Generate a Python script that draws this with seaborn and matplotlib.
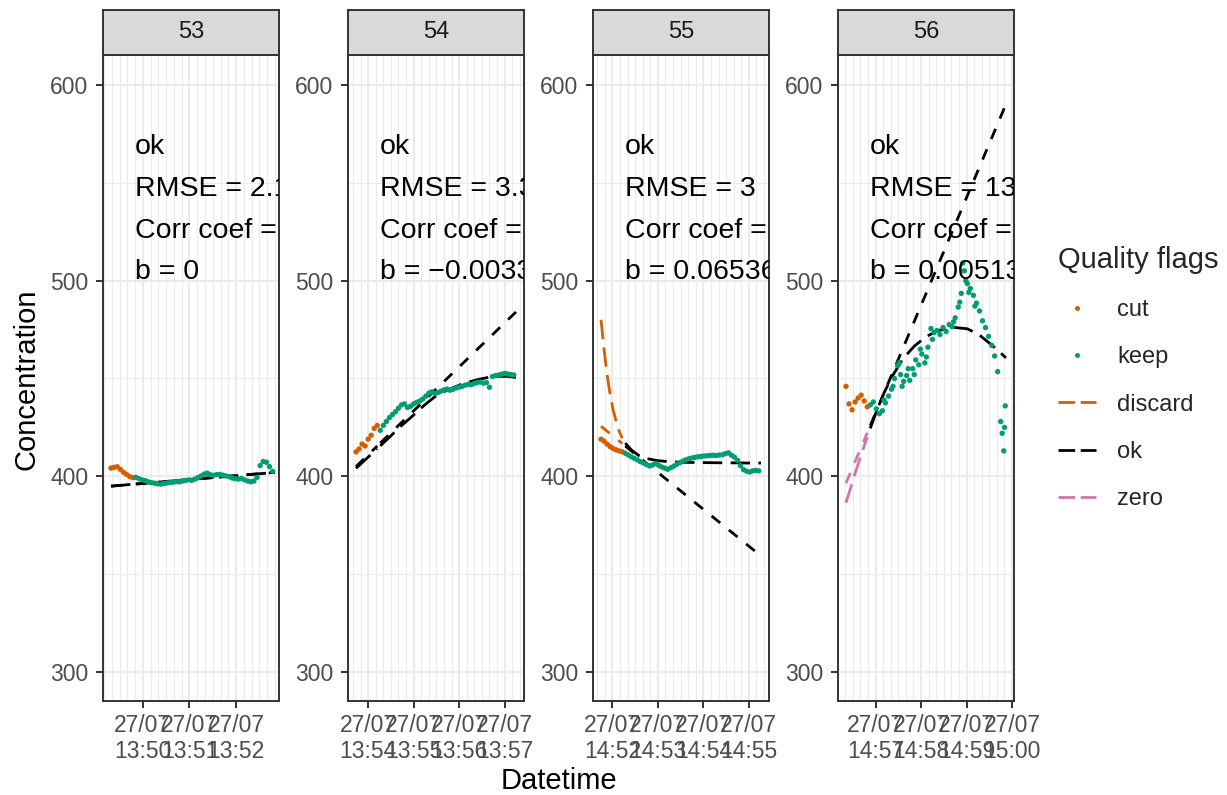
import numpy as np
import pandas as pd
import matplotlib
matplotlib.use("Agg")
import matplotlib.pyplot as plt
import matplotlib.dates as mdates
from matplotlib.lines import Line2D
import seaborn as sns

# ---------------- data ----------------
chambers = ["53", "54", "55", "56"]
start_times = ["2023-07-27 13:49:19", "2023-07-27 13:53:44",
               "2023-07-27 14:51:45", "2023-07-27 14:56:21"]
sample_step = 4          # seconds between logged points
cut_first = 0
keep_first = 32

cut_53 = [404.2, 404.6, 404.9, 403.6, 402.1, 401.0, 399.9, 399.3]
keep_53 = [399.5, 398.8, 398.2, 397.8, 397.2, 396.8, 396.5, 396.2, 396.0, 396.3,
           396.6, 396.9, 397.0, 397.4, 397.2, 397.6, 397.9, 398.2, 398.0, 398.6,
           399.4, 400.2, 401.2, 401.6, 400.8, 400.5, 400.9, 401.0, 400.6, 400.2,
           399.8, 399.2, 398.8, 398.6, 398.9, 398.2, 397.6, 397.2, 397.6, 399.5,
           405.5, 407.6, 407.2, 405.0, 402.6]

cut_54 = [412.5, 414.0, 416.5, 415.5, 419.0, 421.0, 424.5, 426.0]
keep_54 = [423.5, 426.0, 428.0, 430.0, 431.5, 433.0, 434.8, 436.5, 437.0, 435.2,
           435.8, 437.0, 437.8, 438.5, 439.5, 441.0, 442.5, 443.2, 442.4, 442.8,
           443.5, 444.2, 444.6, 444.0, 444.5, 445.2, 445.6, 446.0, 446.6, 447.0,
           446.8, 447.5, 448.0, 448.2, 447.6, 447.9, 445.5, 451.0, 451.5, 451.8,
           452.2, 452.6, 452.3, 452.0, 451.8]

cut_55 = [419.0, 418.0, 416.5, 415.2, 414.2, 413.5, 413.0, 412.6]
keep_55 = [411.8, 410.9, 410.0, 409.2, 408.4, 407.5, 406.8, 406.0, 405.3, 405.8,
           406.6, 405.6, 404.8, 404.2, 403.6, 404.4, 405.2, 406.2, 407.0, 407.8,
           408.5, 409.0, 409.4, 409.7, 410.0, 410.2, 410.4, 410.5, 410.7, 410.8,
           410.6, 410.9, 411.0, 411.6, 412.0, 410.8, 409.8, 408.2, 405.5, 403.4,
           402.6, 402.2, 402.8, 403.0, 402.8]

cut_56 = [446.0, 437.0, 434.0, 438.0, 440.0, 441.5, 438.5, 435.5]
keep_56 = [436.5, 438.0, 434.5, 432.0, 433.5, 437.5, 441.0, 444.5, 450.0, 456.5,
           452.0, 448.5, 451.5, 449.0, 455.0, 459.5, 457.0, 462.5, 458.0, 466.0,
           475.5, 473.5, 474.5, 472.5, 476.0, 474.0, 477.5, 476.5, 481.0, 486.5,
           493.5, 505.0, 498.5, 496.0, 492.5, 488.5, 484.5, 479.5, 476.0, 471.5,
           467.0, 461.5, 453.5, 428.0, 413.0]
# extra scattered readings of chamber 56 (off the 4 s grid)
extra_seconds_56 = [50, 62, 70, 74, 82, 90, 98, 106, 114, 142, 150, 154, 158, 162,
                    170, 206, 209, 210]
extra_56 = [439.0, 446.0, 458.0, 446.0, 455.0, 452.0, 465.0, 461.0, 470.0, 479.0,
            489.0, 509.0, 500.0, 494.0, 487.0, 422.0, 425.0, 436.0]

# linear model lines (values at 0 s, 28 s | 32 s, 211 s)
lm_seconds = [0, 28, 32, 211]
lm_53 = [395.0, 395.9, 396.1, 402.0]
lm_54 = [405.0, 415.5, 417.0, 484.0]
lm_55 = [425.6, 416.8, 415.5, 359.3]
lm_56 = [396.5, 422.2, 425.9, 590.2]

# non-linear model lines
curve_pre_seconds = [0, 4, 8, 12, 16, 20, 24, 28]
curve_post_seconds = [32, 40, 50, 60, 75, 90, 105, 120, 140, 160, 175, 190, 200, 211]
curve_pre_53 = [395.0, 395.1, 395.3, 395.4, 395.5, 395.7, 395.8, 395.9]
curve_post_53 = [396.1, 396.3, 396.7, 397.0, 397.5, 398.0, 398.5, 399.0, 399.6, 400.3,
                 400.8, 401.3, 401.6, 402.0]
curve_pre_54 = [404.1, 405.5, 407.0, 408.4, 409.8, 411.2, 412.7, 414.1]
curve_post_54 = [415.6, 418.5, 422.2, 425.9, 431.0, 436.3, 441.0, 444.0, 447.2, 449.4,
                 450.6, 451.1, 451.1, 450.5]
curve_pre_55 = [480.0, 465.0, 452.0, 442.0, 434.0, 428.0, 423.0, 419.5]
curve_post_55 = [417.0, 413.5, 410.6, 409.1, 408.0, 407.5, 407.2, 407.1, 407.0, 406.9,
                 406.9, 406.8, 406.8, 406.8]
curve_pre_56 = [386.5, 391.5, 396.5, 401.5, 406.3, 411.0, 415.5, 420.0]
curve_post_56 = [424.5, 433.0, 442.5, 450.5, 460.0, 466.5, 471.2, 474.3, 476.2, 475.4,
                 472.5, 467.8, 464.5, 460.5]

pre_flags = ["ok", "ok", "discard", "zero"]
status_text = ["ok", "ok", "ok", "ok"]
rmse_text = ["2.14", "3.31", "3", "13.4"]
corr_text = ["0.612", "0.981", "0.795", "0.873"]
b_text = ["0", "\u22120.00332", "0.06536", "0.00513"]

flag_colors = {"cut": "#D55E00", "keep": "#009E73", "discard": "#D55E00",
               "ok": "#000000", "zero": "#CC79A7"}

cuts = [cut_53, cut_54, cut_55, cut_56]
keeps = [keep_53, keep_54, keep_55, keep_56]
extras_sec = [[], [], [], extra_seconds_56]
extras = [[], [], [], extra_56]
lms = [lm_53, lm_54, lm_55, lm_56]
curves_pre = [curve_pre_53, curve_pre_54, curve_pre_55, curve_pre_56]
curves_post = [curve_post_53, curve_post_54, curve_post_55, curve_post_56]

# ---------------- style ----------------
sns.set_theme(style="white")
plt.rcParams['font.family'] = ['Liberation Sans', 'DejaVu Sans']

W, H = 1227, 795
fig = plt.figure(figsize=(W / 100, H / 100), dpi=100)

panel_left = [103, 348, 593, 838]
panel_w = 176
panel_top, panel_bot = 55, 701
strip_top = 10
x_span = [206, 211, 211, 211]   # seconds covered by each panel before 5% padding

grid_col = "#EBEBEB"
border_col = "#333333"
short_dash = (0, (4, 4))
long_dash = (0, (7, 3))
LW = 2.0

for i, ch in enumerate(chambers):
    t0 = pd.Timestamp(start_times[i])
    ax = fig.add_axes([panel_left[i] / W, 1 - panel_bot / H,
                       panel_w / W, (panel_bot - panel_top) / H])
    ax.set_facecolor("white")
    ax.set_axisbelow(True)

    cut_sec = cut_first + sample_step * np.arange(len(cuts[i]))
    keep_sec = keep_first + sample_step * np.arange(len(keeps[i]))
    all_sec = list(cut_sec) + list(keep_sec) + list(extras_sec[i])
    pts = pd.DataFrame({
        "time": [t0 + pd.Timedelta(seconds=int(s)) for s in all_sec],
        "conc": list(cuts[i]) + list(keeps[i]) + list(extras[i]),
        "flag": ["cut"] * len(cuts[i]) + ["keep"] * (len(keeps[i]) + len(extras[i])),
    })

    def tt(secs):
        return [t0 + pd.Timedelta(seconds=float(s)) for s in secs]

    pre_col = flag_colors[pre_flags[i]]
    # linear model
    sns.lineplot(x=tt(lm_seconds[:2]), y=lms[i][:2], color=pre_col, lw=LW,
                 linestyle=short_dash, estimator=None, sort=False, ax=ax)
    sns.lineplot(x=tt(lm_seconds[2:]), y=lms[i][2:], color=flag_colors["ok"], lw=LW,
                 linestyle=short_dash, estimator=None, sort=False, ax=ax)
    # non-linear model
    sns.lineplot(x=tt(curve_pre_seconds), y=curves_pre[i], color=pre_col, lw=LW,
                 linestyle=long_dash, estimator=None, sort=False, ax=ax)
    sns.lineplot(x=tt(curve_post_seconds), y=curves_post[i], color=flag_colors["ok"], lw=LW,
                 linestyle=long_dash, estimator=None, sort=False, ax=ax)

    sns.scatterplot(data=pts, x="time", y="conc", hue="flag",
                    palette={"cut": flag_colors["cut"], "keep": flag_colors["keep"]},
                    s=15, linewidth=0, legend=False, ax=ax, zorder=3)

    # scales
    span = x_span[i]
    ax.set_xlim(t0 - pd.Timedelta(seconds=0.05 * span), t0 + pd.Timedelta(seconds=1.05 * span))
    ax.set_ylim(285.2, 615.3)
    ax.set_yticks([300, 400, 500, 600])
    ax.set_yticks([350, 450, 550], minor=True)
    ax.xaxis.set_major_locator(mdates.MinuteLocator())
    ax.xaxis.set_major_formatter(mdates.DateFormatter("%d/%m\n%H:%M"))
    ax.xaxis.set_minor_locator(mdates.SecondLocator(bysecond=[10, 20, 30, 40, 50]))
    ax.grid(which="major", color=grid_col, lw=1.5)
    ax.grid(which="minor", color=grid_col, lw=0.8)
    ax.tick_params(which="major", length=5, width=1.4, color=border_col,
                   labelsize=16.5, labelcolor="#4D4D4D", bottom=True, left=True)
    ax.tick_params(axis="x", which="major", pad=4)
    ax.tick_params(axis="y", which="major", pad=5.5)
    ax.tick_params(which="minor", length=0)
    for sp in ax.spines.values():
        sp.set_color(border_col)
        sp.set_linewidth(1.4)
    ax.set_xlabel("")
    ax.set_ylabel("")

    # annotations
    tx = t0 + pd.Timedelta(seconds=31)
    lines = [status_text[i], "RMSE = " + rmse_text[i],
             "Corr coef = " + corr_text[i], "b = " + b_text[i]]
    for s, yv in zip(lines, [564.7, 543.3, 521.7, 500.7]):
        ax.text(tx, yv, s, fontsize=20.5, color="black", ha="left", va="baseline",
                clip_on=True)

    # strip
    sax = fig.add_axes([panel_left[i] / W, 1 - panel_top / H,
                        panel_w / W, (panel_top - strip_top) / H])
    sax.set_facecolor("#D9D9D9")
    sax.set_xticks([])
    sax.set_yticks([])
    for sp in sax.spines.values():
        sp.set_color(border_col)
        sp.set_linewidth(1.4)
    sax.text(0.5, 0.5, ch, transform=sax.transAxes, ha="center", va="center",
             fontsize=17, color="#1A1A1A")

fig.text(27 / W, 1 - 379 / H, "Concentration", rotation=90, ha="center", va="center",
         fontsize=21, color="black")
fig.text(558.5 / W, 1 - 781 / H, "Datetime", ha="center", va="center",
         fontsize=21, color="black")

handles = [
    Line2D([], [], linestyle="none", marker="o", markersize=3.6, markeredgewidth=0,
           color=flag_colors["cut"]),
    Line2D([], [], linestyle="none", marker="o", markersize=3.6, markeredgewidth=0,
           color=flag_colors["keep"]),
    Line2D([], [], color=flag_colors["discard"], lw=LW, linestyle=(0, (6, 2))),
    Line2D([], [], color=flag_colors["ok"], lw=LW, linestyle=(0, (6, 2))),
    Line2D([], [], color=flag_colors["zero"], lw=LW, linestyle=(0, (6, 2))),
]
labels = ["cut", "keep", "discard", "ok", "zero"]
fig.legend(handles, labels, loc="upper left", bbox_to_anchor=(1052 / W, 1 - 240 / H),
           frameon=False, title="Quality flags", title_fontsize=21, fontsize=17,
           alignment="left", handlelength=1.6, handletextpad=0.9, labelspacing=1.07,
           borderpad=0.25, borderaxespad=0)

fig.savefig("out.png", dpi=100)
